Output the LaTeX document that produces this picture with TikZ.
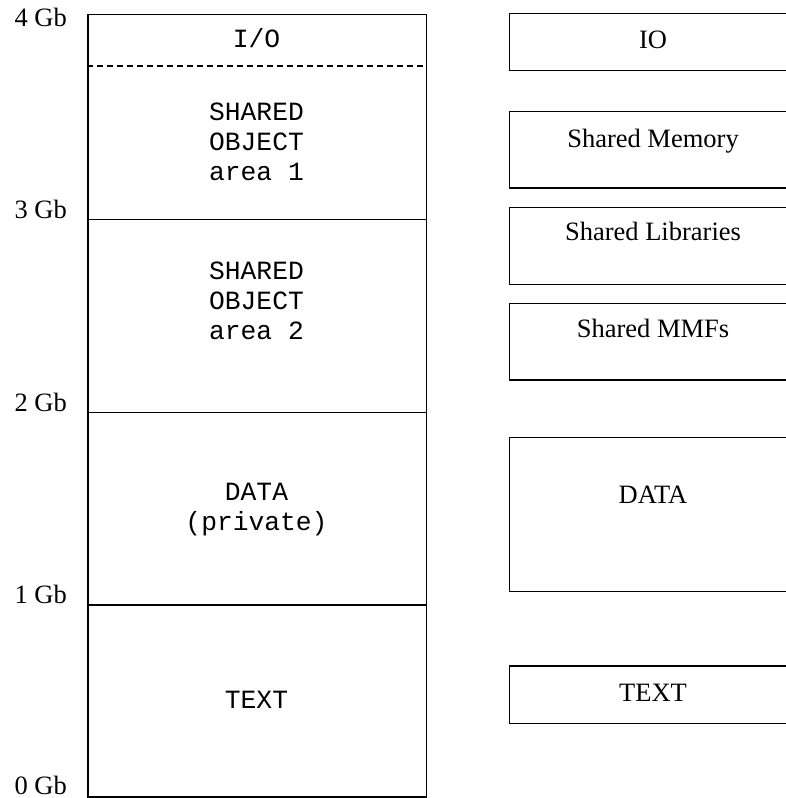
\documentclass[tikz,border=0pt]{standalone}
\usepackage{fontspec}
\setmainfont{Liberation Serif}
\newfontfamily\monoface{Liberation Mono}
\begin{document}
\begin{tikzpicture}[x=1pt,y=-1pt,
  memline/.style={line width=1.5pt},
  memtxt/.style={font=\monoface\fontsize{26.3}{30}\selectfont, anchor=base, align=center, inner sep=0pt},
  rbox/.style={draw, line width=1.4pt, rectangle, anchor=north west, minimum width=288pt, inner sep=0pt},
  rtxt/.style={font=\fontsize{26.5}{30}\selectfont, anchor=base, inner sep=0pt},
  gb/.style={font=\fontsize{26.5}{30}\selectfont, anchor=base east, inner sep=0pt}]
\useasboundingbox (0,0) rectangle (786,798);
\clip (0,0) rectangle (786,798);
% left memory map
\node[draw, memline, rectangle, anchor=north west, minimum width=338.4pt, minimum height=782.5pt, inner sep=0pt] (mem) at (87.3,13.5) {};
\coordinate (l35) at (87.3,66);
\coordinate (l3) at (87.3,219.5);
\coordinate (l2) at (87.3,412.7);
\coordinate (l1) at (87.3,605);
\draw[memline, dash pattern=on 6pt off 4pt] (mem.west |- l35) -- (mem.east |- l35);
\draw[memline] (mem.west |- l3) -- (mem.east |- l3);
\draw[memline] (mem.west |- l2) -- (mem.east |- l2);
\draw[memline] (mem.west |- l1) -- (mem.east |- l1);
\node[memtxt] (tio) at (256.5,47.5) {I/O};
\node[memtxt] (tso1) at (256.5,180.4) {SHARED\\OBJECT\\area 1};
\node[memtxt] (tso2) at (256.5,339) {SHARED\\OBJECT\\area 2};
\node[memtxt] (tdata) at (256.5,530.7) {DATA\\(private)};
\node[memtxt] (ttext) at (256.5,708.3) {TEXT};
% address labels
\node[gb] (g4) at (67,26.7) {4 Gb};
\node[gb] (g3) at (67,218.5) {3 Gb};
\node[gb] (g2) at (67,411.7) {2 Gb};
\node[gb] (g1) at (67,603.5) {1 Gb};
\node[gb] (g0) at (67,794) {0 Gb};
% right boxes
\node[rbox, minimum height=57.3pt] (rio) at (509,12.7) {};
\node[rtxt] (rtio) at (653,48.3) {IO};
\node[rbox, minimum height=76.6pt] (rsm) at (509,110.7) {};
\node[rtxt] (rtsm) at (653,147) {Shared Memory};
\node[rbox, minimum height=77.3pt] (rsl) at (509,206.7) {};
\node[rtxt] (rtsl) at (653,240.7) {Shared Libraries};
\node[rbox, minimum height=76.6pt] (rmmf) at (509,302.7) {};
\node[rtxt] (rtmmf) at (653,337.3) {Shared MMFs};
\node[rbox, minimum height=154pt] (rdata) at (509,436.7) {};
\node[rtxt] (rtdata) at (653,503.3) {DATA};
\node[rbox, minimum height=57.4pt] (rtext) at (509,665.3) {};
\node[rtxt] (rttext) at (653,701.7) {TEXT};
\end{tikzpicture}
\end{document}
